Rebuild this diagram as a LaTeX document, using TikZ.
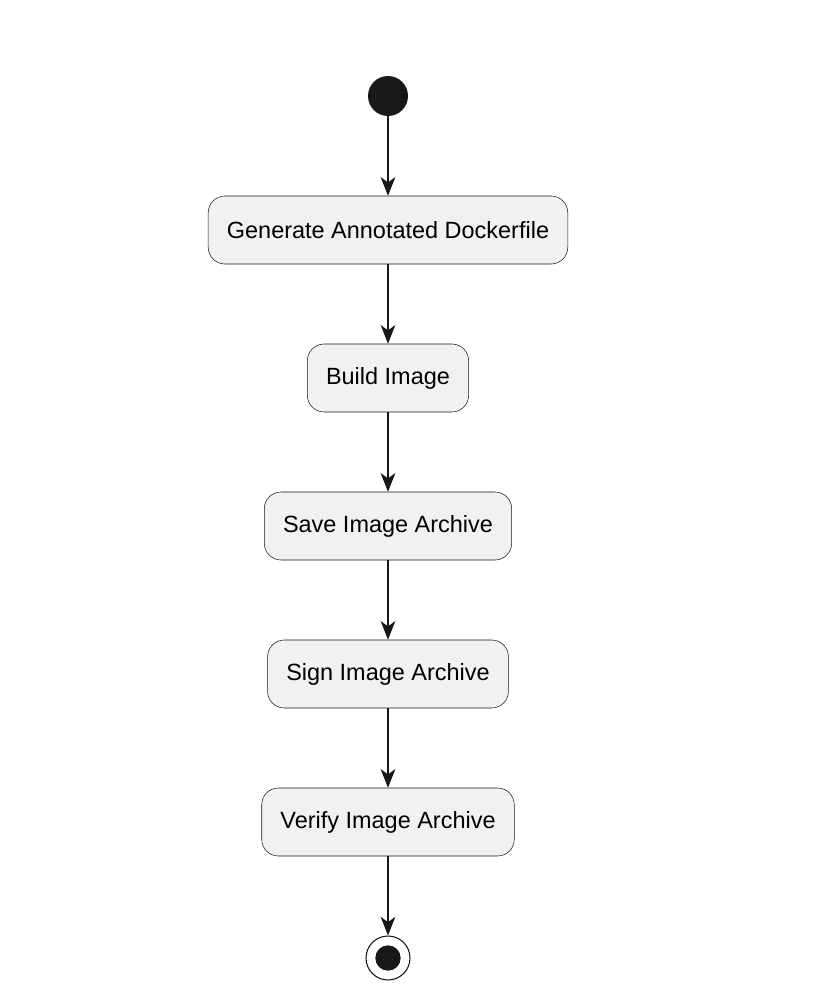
\documentclass[tikz,border=0pt]{standalone}
\usepackage{fontspec}
\setmainfont{Liberation Sans}
\usetikzlibrary{arrows.meta}
\definecolor{boxfill}{HTML}{F1F1F1}
\definecolor{ink}{HTML}{181818}
\tikzset{
  act/.style={draw=ink,fill=boxfill,rounded corners=12.5pt,minimum height=51pt,inner xsep=14pt,font=\fontsize{17.6}{20}\selectfont},
  flow/.style={draw=ink,thick,-{Stealth[length=14pt,width=11pt,inset=4pt]}}
}
\begin{document}
\begin{tikzpicture}[x=0.75pt,y=-0.75pt]
	\useasboundingbox (0,0) rectangle (820,992);
	\node[circle,fill=ink,minimum size=30pt,inner sep=0pt] (start) at (388,96) {};
	\node[act] (gen) at (388,230) {Generate Annotated Dockerfile};
	\node[act] (build) at (388,378) {Build Image};
	\node[act] (save) at (388,526) {Save Image Archive};
	\node[act] (sign) at (388,674) {Sign Image Archive};
	\node[act] (verify) at (388,822) {Verify Image Archive};
	\node[circle,draw=ink,thick,fill=white,minimum size=33pt,inner sep=0pt] (stop) at (388,958) {};
	\node[circle,fill=ink,minimum size=19pt,inner sep=0pt] at (stop) {};
	\draw[flow] (start) -- (gen);
	\draw[flow] (gen) -- (build);
	\draw[flow] (build) -- (save);
	\draw[flow] (save) -- (sign);
	\draw[flow] (sign) -- (verify);
	\draw[flow] (verify) -- (stop);
\end{tikzpicture}
\end{document}
